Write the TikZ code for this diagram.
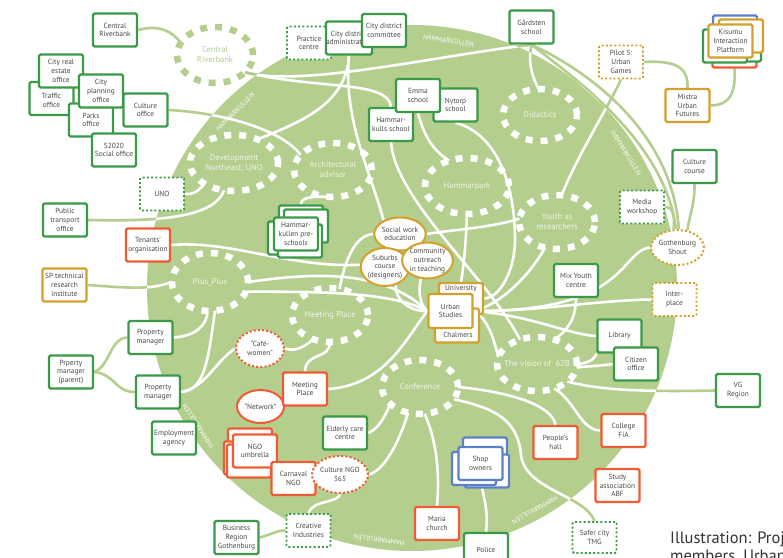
\documentclass[tikz,border=0pt]{standalone}
\usepackage{fontspec}
\setmainfont{PT Sans}
\usetikzlibrary{shapes.geometric}
\pgfdeclarelayer{bg}
\pgfdeclarelayer{lines}
\pgfsetlayers{bg,lines,main}
\definecolor{blob}{HTML}{B4CE8E}
\definecolor{bgreen}{HTML}{3A9A48}
\definecolor{bred}{HTML}{EE5B35}
\definecolor{bgold}{HTML}{D3A02E}
\definecolor{bblue}{HTML}{5B80C8}
\definecolor{txt}{HTML}{484848}
\definecolor{ringtxt}{HTML}{EEF4E6}
\newcommand\myconns{%
 \draw[cn] (cr.east) .. controls (160,24) and (172,32) .. (rcr.160);
 \draw[cn] (cul.east) .. controls (225,113) and (282,130) .. (rarc.155);
 \draw[cn] (rcr.-30) .. controls (300,88) and (440,55) .. (gar.south);
 \draw[cn] (rcr.-30) .. controls (320,90) and (388,80) .. (ham.north);
 \draw[cn] (adm.south) .. controls (346,105) and (300,122) .. (rdev.45);
 \draw[cn] (adm.south) .. controls (343,120) and (370,170) .. (swe.140);
 \draw[cn] (uno.east) .. controls (192,194) and (196,194) .. (rdev.215);
 \draw[cn] (pto.east) .. controls (170,222) and (215,215) .. (rdev.250);
 \draw[cn] (ten.east) .. controls (230,240) and (290,268) .. (sub.175);
 \draw[cn] (sp.east) .. controls (130,288) and (150,290) .. (rpp.180);
 \draw[cn] (pma.east) .. controls (195,336) and (207,326) .. (rpp.-95);
 \draw[cn] (pmb.east) .. controls (205,390) and (208,360) .. (rpp.-80);
 \draw[cn] (pmb.east) .. controls (205,388) and (215,362) .. (cafe.west);
 \draw[cn] (pmp.east) .. controls (110,366) and (110,338) .. (pma.west);
 \draw[cn] (pmp.east) .. controls (115,374) and (115,392) .. (pmb.west);
 \draw[cn] (rpp.0) .. controls (300,275) and (380,265) .. (us.west);
 \draw[cn] (rpp.-15) .. controls (300,292) and (390,290) .. (us.west);
 \draw[cn] (rarc.-100) .. controls (304,196) and (301,200) .. (preA.north);
 \draw[cn] (ham.south) .. controls (395,200) and (490,280) .. (rvis.125);
 \draw[cn] (emm.south) .. controls (424,135) and (432,150) .. (rhp.125);
 \draw[cn] (nyt.south) .. controls (500,135) and (515,190) .. (515,240) .. controls (515,270) and (500,298) .. (uni.east);
 \draw[cn] (pil.south) .. controls (612,100) and (575,160) .. (ryr.80);
 \draw[cn] (rhp.-90) .. controls (466,240) and (464,265) .. (uni.north);
 \draw[cn] (gar.south) .. controls (528,60) and (531,75) .. (rdid.93);
 \draw[cn] (gar.south) .. controls (570,75) and (665,140) .. (gs.95);
 \draw[cn] (gar.south) .. controls (582,68) and (672,128) .. (gs.86);
 \draw[cn] (pil.east) .. controls (680,60) and (688,70) .. (mis.north);
 \draw[cn] (mis.east) .. controls (735,105) and (735,85) .. (kisr.south);
 \draw[cn] (cc.south) .. controls (695,205) and (688,220) .. (gs.60);
 \draw[cn] (med.east) .. controls (673,207) and (675,215) .. (gs.102);
 \draw[cn] (gs.west) .. controls (620,250) and (630,312) .. (us.east);
 \draw[cn] (int.west) .. controls (600,300) and (530,312) .. (us.east);
 \draw[cn] (us.east) .. controls (530,315) and (570,335) .. (lib.west);
 \draw[cn] (us.east) .. controls (490,320) and (495,345) .. (rvis.170);
 \draw[cn] (lib.south west) .. controls (595,360) and (585,364) .. (rvis.0);
 \draw[cn] (cit.west) .. controls (600,366) and (590,366) .. (rvis.-5);
 \draw[cn] (vg.west) .. controls (640,392) and (600,390) .. (rvis.-30);
 \draw[cn] (fia.west) .. controls (580,430) and (575,400) .. (rvis.-55);
 \draw[cn] (mix.south) .. controls (576,320) and (566,332) .. (rvis.55);
 \draw[cn] (ryr.175) .. controls (490,228) and (450,230) .. (swe.east);
 \draw[cn] (ryr.-115) .. controls (530,275) and (500,305) .. (us.east);
 \draw[cn] (peo.north) .. controls (552,405) and (510,392) .. (rconf.0);
 \draw[cn] (tmg.north) .. controls (585,495) and (525,490) .. (521,455) .. controls (518,420) and (495,408) .. (rconf.-20);
 \draw[cn] (mar.north) .. controls (440,470) and (436,440) .. (rconf.-80);
 \draw[cn] (shop.south) .. controls (486,505) and (488,515) .. (pol.north);
 \draw[cn] (c365.east) .. controls (385,470) and (400,440) .. (rconf.-115);
 \draw[cn] (eld.east) .. controls (380,428) and (385,415) .. (rconf.-150);
 \draw[cn] (mpb.east) .. controls (385,385) and (405,340) .. (us.west);
 \draw[cn] (c365.south) .. controls (339,503) and (312,500) .. (cri.north);
 \draw[cn] (brg.east) .. controls (270,535) and (278,530) .. (cri.west);
 \draw[cn] (cafe.east) .. controls (295,352) and (305,347) .. (rmp.-125);
 \draw[cn] (rmp.-90) .. controls (330,360) and (305,352) .. (mpb.north);
 \draw[cn] (rmp.70) .. controls (345,260) and (355,235) .. (swe.west);
 \draw[cn] (sub.-60) .. controls (395,300) and (410,312) .. (us.west);
 \draw[cn] (cot.-110) .. controls (418,292) and (420,305) .. (us.west);
}
\begin{document}
\begin{tikzpicture}[x=1pt,y=-1pt,
  bx/.style={rectangle, draw=#1, fill=white, line width=2.4pt, rounded corners=1.5pt,
    minimum width=44pt, minimum height=33pt, inner sep=0pt, align=center,
    font=\fontsize{7.4}{8.8}\selectfont, text=txt},
  bx/.default=bgreen,
  dbx/.style={bx=#1, line width=1.9pt, dash pattern=on 2pt off 2.2pt},
  dbx/.default=bgreen,
  el/.style={ellipse, draw=#1, fill=white, line width=2pt, inner sep=0pt, align=center,
    font=\fontsize{7.4}{8.8}\selectfont, text=txt},
  del/.style={el=#1, dash pattern=on 2pt off 2.2pt},
  tx/.style={inner sep=0pt, align=center, font=\fontsize{7.4}{8.8}\selectfont, text=txt},
  ring/.style={ellipse, draw=white, line width=6.5pt, dash pattern=on 7pt off 8pt, inner sep=0pt, outer sep=0pt},
  rlbl/.style={text=ringtxt, font=\fontsize{8.5}{10}\selectfont, align=center, inner sep=0pt},
  hk/.style={text=white, font=\fontsize{6.8}{8}\selectfont, inner sep=0pt},
  outl/.style={draw=blob, line width=2.6pt},
  inl/.style={draw=white, line width=2.6pt}
]
\useasboundingbox (0,0) rectangle (783,557);
\begin{pgfonlayer}{bg}
 \fill[white] (0,0) rectangle (783,557);
 \fill[blob] (412,288) ellipse [x radius=265pt, y radius=263pt];
\end{pgfonlayer}

% HAMMARKULLEN labels
\node[hk, rotate=-8.4] (hka) at (448.5,40.7) {HAMMARKULLEN};
\node[hk, rotate=44.8] (hkb) at (235,112) {HAMMARKULLEN};
\node[hk, rotate=-57.8] (hkc) at (626,153) {HAMMARKULLEN};
\node[hk, rotate=122.9] (hkd) at (198,426) {HAMMARKULLEN};
\node[hk, rotate=-151] (hke) at (535,510) {HAMMARKULLEN};
\node[hk, rotate=172.3] (hkf) at (379,540) {HAMMARKULLEN};

% rings
\node[ring, draw=blob, minimum width=76pt, minimum height=56pt, label={[rlbl, text=blob]center:Central\\Riverbank}] (rcr) at (215,55) {};
\node[ring, minimum width=88pt, minimum height=56pt, label={[rlbl]center:Development\\Northeast, UNO}] (rdev) at (234,163) {};
\node[ring, minimum width=78pt, minimum height=54pt, label={[rlbl]center:Architectural\\advisor}] (rarc) at (333,170) {};
\node[ring, minimum width=74pt, minimum height=52pt, label={[rlbl]center:Didactics}] (rdid) at (540,115) {};
\node[ring, minimum width=84pt, minimum height=56pt, label={[rlbl]center:Hammarpark}] (rhp) at (467,186) {};
\node[ring, minimum width=76pt, minimum height=54pt, label={[rlbl]center:Youth as\\researchers}] (ryr) at (557,222) {};
\node[ring, minimum width=76pt, minimum height=58pt, label={[rlbl]center:Plus\_Plus}] (rpp) at (210,282) {};
\node[ring, minimum width=76pt, minimum height=54pt, label={[rlbl]center:Meeting Place}] (rmp) at (330,315) {};
\node[ring, minimum width=76pt, minimum height=54pt, label={[rlbl]center:Conference}] (rconf) at (420,387) {};
\node[ring, minimum width=80pt, minimum height=54pt, label={[rlbl]center:The vision of\ \ 62B}] (rvis) at (537,364) {};

% top-left cluster
\node[bx] (cr) at (115,30) {Central\\Riverbank};
\node[bx] (tra) at (51.5,98.5) {\\Traffic\\office};
\node[bx] (prk) at (91,120) {Parks\\office};
\node[bx] (cre) at (61,71) {City real\\estate\\office};
\node[bx] (cpl) at (101,91) {City\\planning\\office};
\node[bx] (cul) at (145.5,110) {Culture\\office};
\node[bx] (s20) at (114,150) {S2020\\Social office};

% top
\node[dbx] (prc) at (309,43) {Practice\\centre};
\node[bx] (adm) at (349,38) {City district\\administration};
\node[bx] (com) at (384,30.5) {City district\\committee};
\node[bx] (ham) at (391,124.5) {Hammar-\\kulls school};
\node[bx] (nyt) at (455.5,105) {Nytorp\\school};
\node[bx] (emm) at (418,95.5) {Emma\\school};
\node[bx] (gar) at (531.5,27) {Gårdsten\\school};
\node[dbx=bgold] (pil) at (621,62) {Pilot 5:\\Urban\\Games};
\node[bx=bblue] (kisb) at (735,32) {};
\node[bx=bred] (kisr) at (734.5,51) {};
\node[bx] (kisg) at (739,45) {};
\node[bx=bgold] (kisy) at (741,36) {};
\node[bx] (kisf) at (725,46) {};
\node[bx=bgold] (kis) at (730.5,41) {Kisumu\\Interaction\\Platform};
\node[bx=bgold] (mis) at (687.5,105.5) {Mistra\\Urban\\Futures};
\node[bx] (cc) at (694.5,166.5) {Culture\\course};

% left
\node[dbx] (uno) at (162,194) {UNO};
\node[bx] (pto) at (65,220) {Public\\transport\\office};
\node[bx=bred] (ten) at (148,245) {Tenants’\\organisation};
\node[bx=bgold] (sp) at (64.5,285) {SP technical\\research\\institute};
\node[bx] (pma) at (150.5,337.5) {Property\\manager};
\node[bx] (pmp) at (71,372) {Prperty\\manager\\(parent)};
\node[bx] (pmb) at (158,392) {Property\\manager};
\node[bx] (emp) at (174,438) {Employment\\agency};

% middle
\node[bx] (preA) at (301,222) {};
\node[bx] (preB) at (306,226) {};
\node[bx] (preC) at (290,238) {};
\node[bx] (preD) at (300,241) {};
\node[bx] (pre) at (296,234) {Hammar-\\kullen pre-\\schools};
\node[el=bgold, minimum width=50pt, minimum height=33pt] (swe) at (400,234) {Social work\\education};
\node[el=bgold, minimum width=47pt, minimum height=38pt] (sub) at (385,267) {Suburbs\\course\\(designers)};
\node[el=bgold, minimum width=49pt, minimum height=36pt] (cot) at (427.5,260.5) {Community\\outreach\\in teaching};
\node[bx=bgold, minimum height=31pt] (uni) at (461,298.5) {};
\node[tx] (unit) at (461,288.5) {University};
\node[bx=bgold, minimum height=34pt] (cha) at (457,325.5) {};
\node[tx] (chat) at (458,335) {Chalmers};
\node[bx=bgold, minimum height=34pt] (us) at (450.5,311) {Urban\\Studies};
\node[bx] (mix) at (576,280.5) {Mix Youth\\centre};

% right
\node[dbx] (med) at (642,207) {Media\\workshop};
\node[del=bgold, minimum width=49pt, minimum height=35pt] (gs) at (677.5,247.5) {Gothenburg\\Shout};
\node[dbx=bgold] (int) at (674.5,299.5) {Inter-\\place};
\node[bx] (lib) at (619.5,336) {Library};
\node[bx] (cit) at (636,364) {Citizen\\office};
\node[bx] (vg) at (738,390.5) {VG\\Region};
\node[bx=bred] (fia) at (623.5,430.5) {College\\FiA};
\node[bx=bred] (abf) at (617.5,485.5) {Study\\association\\ABF};
\node[dbx, minimum height=31pt] (tmg) at (594.5,537.5) {Safer city\\TMG};

% bottom
\node[del=bred, minimum width=48pt, minimum height=37pt] (cafe) at (260,348.5) {“Café-\\women”};
\node[el=bred, minimum width=47pt, minimum height=33pt] (net) at (260.5,406.5) {“Network”};
\node[bx=bred] (mpb) at (305,389) {Meeting\\Place};
\node[bx] (eld) at (345,433) {Elderly care\\centre};
\node[bx=bred] (ngoA) at (250,445) {};
\node[bx=bred] (ngoB) at (246,458) {};
\node[bx=bred] (ngoC) at (249,461) {};
\node[bx=bred] (ngo) at (255,451) {NGO\\umbrella};
\node[bx=bred] (car) at (293.5,478.5) {Carnaval\\NGO};
\node[del=bred, minimum width=46pt, minimum height=37pt] (c365) at (340,474.5) {Culture NGO\\365};
\node[dbx] (cri) at (308.5,530.5) {Creative\\Industries};
\node[bx] (brg) at (236.5,537.5) {Business\\Region\\Gothenburg};
\node[bx=bblue] (shopA) at (485,454) {};
\node[bx=bblue] (shopB) at (487,471) {};
\node[bx=bblue] (shopC) at (474,468.5) {};
\node[bx=bblue] (shop) at (480.5,463.5) {Shop\\owners};
\node[bx=bred] (peo) at (555.5,442.5) {People’s\\hall};
\node[bx=bred] (mar) at (437,523.5) {Maria\\church};
\node[bx] (pol) at (486,549.5) {Police};

% caption
\node[anchor=base west, inner sep=0pt, align=left, text=black!80, font=\fontsize{16.5}{18}\selectfont] (cap) at (670,543) {Illustration: Project};
\node[anchor=base west, inner sep=0pt, align=left, text=black!80, font=\fontsize{16.5}{18}\selectfont] (capb) at (670,561) {members, Urban};

\begin{pgfonlayer}{lines}
 \tikzset{cn/.style={outl}}
 \myconns
 \begin{scope}
  \clip (412,288) ellipse [x radius=265pt, y radius=263pt];
  \tikzset{cn/.style={inl}}
  \myconns
 \end{scope}
\end{pgfonlayer}
\end{tikzpicture}
\end{document}
